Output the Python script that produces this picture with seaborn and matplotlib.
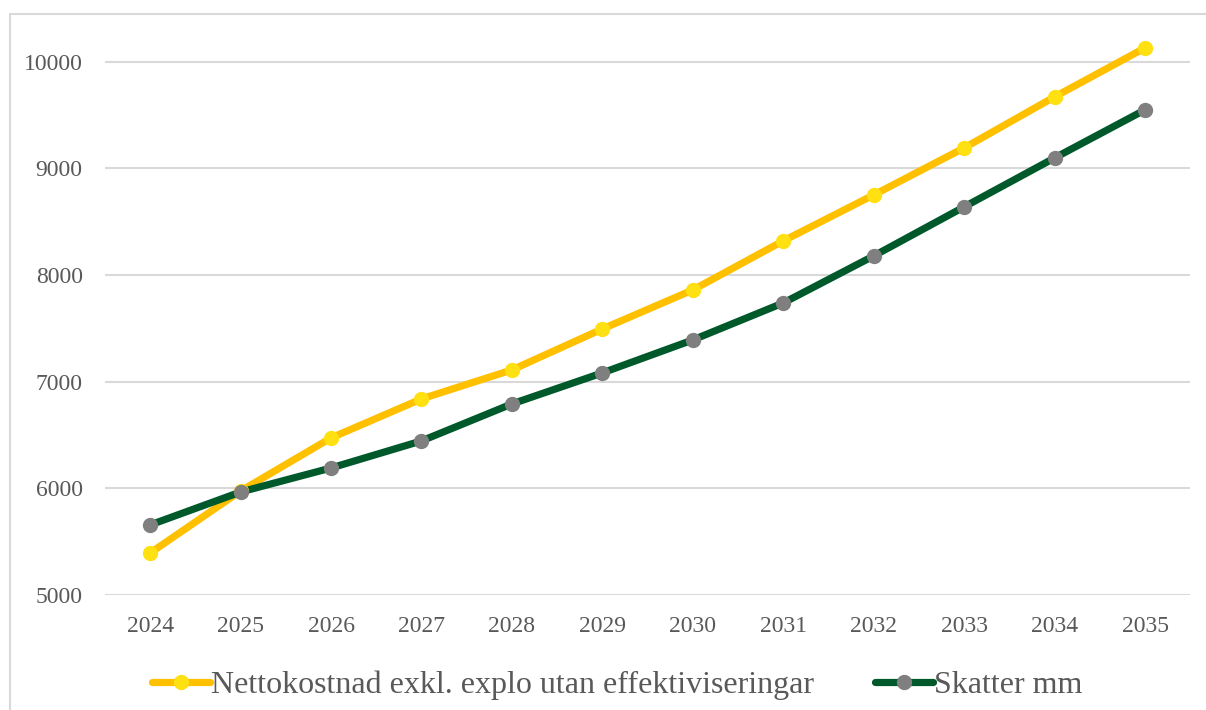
import matplotlib
matplotlib.use("Agg")
import matplotlib.pyplot as plt
import seaborn as sns
import pandas as pd
from matplotlib.patches import Rectangle
from matplotlib.lines import Line2D

years = [2024, 2025, 2026, 2027, 2028, 2029, 2030, 2031, 2032, 2033, 2034, 2035]
netto = [5394, 5975, 6473, 6839, 7111, 7495, 7861, 8321, 8752, 9193, 9672, 10131]
skatter = [5657, 5966, 6191, 6445, 6792, 7083, 7392, 7739, 8180, 8640, 9099, 9550]
series_names = ["Nettokostnad exkl. explo utan effektiviseringar", "Skatter mm"]
y_ticks = [5000, 6000, 7000, 8000, 9000, 10000]

sns.set_theme(style="white")
plt.rcParams['font.family'] = ['Liberation Serif', 'DejaVu Serif']

df = pd.DataFrame({
    "idx": list(range(len(years))) * 2,
    "value": netto + skatter,
    "series": [series_names[0]] * len(years) + [series_names[1]] * len(years),
})

fig = plt.figure(figsize=(12.06, 7.1), dpi=100)
ax = fig.add_axes([0.087, 0.162, 0.9, 0.811])

line_colors = {series_names[0]: "#FFC000", series_names[1]: "#00592A"}
sns.lineplot(data=df, x="idx", y="value", hue="series", palette=line_colors,
             linewidth=5.2, ax=ax, legend=False, zorder=3)
marker_colors = ["#FFE010", "#7F7F7F"]
for name, mc in zip(series_names, marker_colors):
    sub = df[df.series == name]
    ax.plot(sub.idx, sub.value, linestyle="none", marker="o", markersize=10,
            markerfacecolor=mc, markeredgecolor=mc, zorder=4)

ax.set_xlim(-0.5, len(years) - 0.5)
ax.set_ylim(5000, 10400)
ax.set_yticks(y_ticks)
ax.set_yticklabels([str(t) for t in y_ticks])
ax.set_xticks(range(len(years)))
ax.set_xticklabels([str(y) for y in years])
ax.yaxis.grid(True, color="#D9D9D9", linewidth=1.5)
ax.xaxis.grid(False)
for s in ax.spines.values():
    s.set_visible(False)
ax.tick_params(axis="both", length=0, labelsize=17, labelcolor="#595959")
ax.tick_params(axis="y", pad=16)
ax.tick_params(axis="x", pad=15)
ax.set_xlabel("")
ax.set_ylabel("")

handles = [
    Line2D([0], [0], color="#FFC000", linewidth=5.2, marker="o", markersize=10,
           markerfacecolor="#FFE010", markeredgecolor="#FFE010", solid_capstyle="round"),
    Line2D([0], [0], color="#00592A", linewidth=5.2, marker="o", markersize=10,
           markerfacecolor="#7F7F7F", markeredgecolor="#7F7F7F", solid_capstyle="round"),
]
leg = fig.legend(handles, series_names, loc="center", bbox_to_anchor=(0.512, 0.035),
                 ncol=2, frameon=False, fontsize=23, handlelength=1.8,
                 handletextpad=0.05, columnspacing=1.9)
for t in leg.get_texts():
    t.set_color("#595959")

fig.patches.append(Rectangle((10 / 1206, -0.01), 1.1, 1 - 14 / 710 + 0.01,
                             transform=fig.transFigure, fill=False,
                             edgecolor="#D9D9D9", linewidth=1.5, zorder=0))

fig.savefig("out.png", dpi=100)
